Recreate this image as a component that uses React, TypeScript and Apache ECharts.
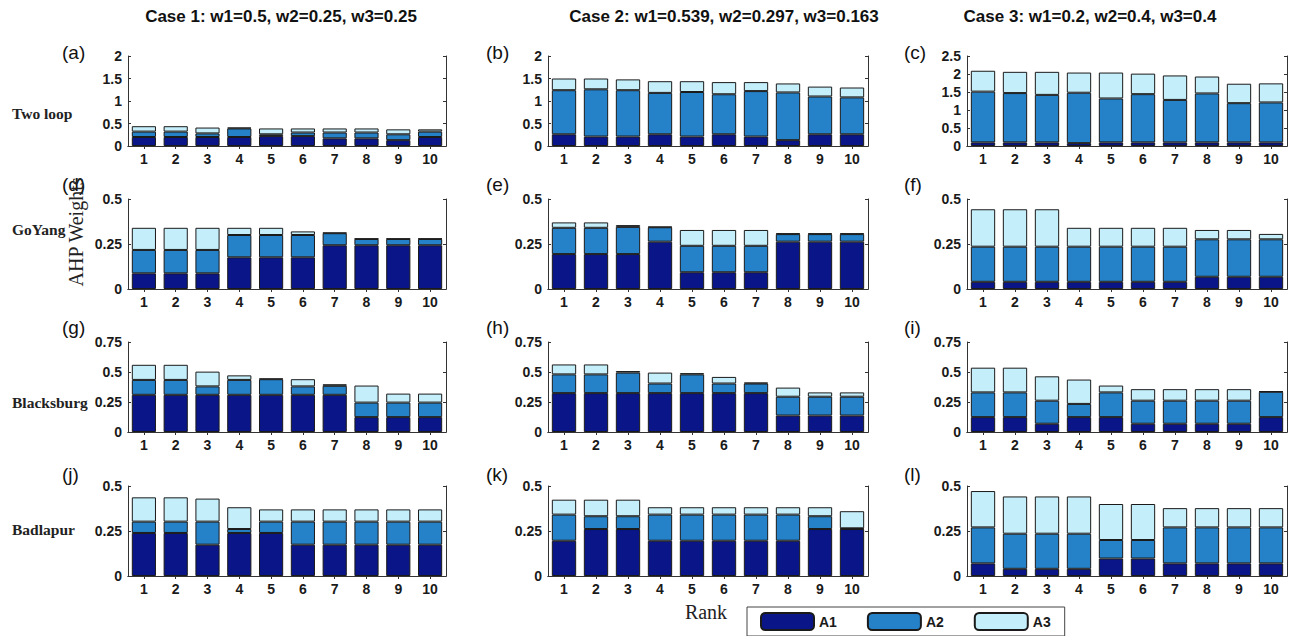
import React, { useEffect, useRef } from 'react';
import * as echarts from 'echarts';

const ranks = ['1', '2', '3', '4', '5', '6', '7', '8', '9', '10'];
const caseTitles = ['Case 1: w1=0.5, w2=0.25, w3=0.25', 'Case 2: w1=0.539, w2=0.297, w3=0.163', 'Case 3: w1=0.2, w2=0.4, w3=0.4'];
const networks = ['Two loop', 'GoYang', 'Blacksburg', 'Badlapur'];
const panelLetters = ['(a)', '(b)', '(c)', '(d)', '(e)', '(f)', '(g)', '(h)', '(i)', '(j)', '(k)', '(l)'];
const seriesNames = ['A1', 'A2', 'A3'];
const yMax = [2, 2, 2.5, 0.5, 0.5, 0.5, 0.75, 0.75, 0.75, 0.5, 0.5, 0.5];
const yStep = [0.5, 0.5, 0.5, 0.25, 0.25, 0.25, 0.25, 0.25, 0.25, 0.25, 0.25, 0.25];

// (a) Two loop, Case 1
const a_A1 = [0.2, 0.2, 0.2, 0.2, 0.22, 0.22, 0.17, 0.17, 0.13, 0.2];
const a_A2 = [0.12, 0.12, 0.08, 0.19, 0.04, 0.08, 0.13, 0.13, 0.13, 0.12];
const a_A3 = [0.12, 0.12, 0.13, 0.02, 0.13, 0.09, 0.09, 0.09, 0.11, 0.05];
// (b) Two loop, Case 2
const b_A1 = [0.26, 0.21, 0.21, 0.26, 0.21, 0.26, 0.21, 0.13, 0.26, 0.26];
const b_A2 = [0.98, 1.05, 1.03, 0.92, 0.99, 0.89, 1.01, 1.06, 0.84, 0.82];
const b_A3 = [0.26, 0.24, 0.24, 0.26, 0.24, 0.27, 0.2, 0.2, 0.22, 0.22];
// (c) Two loop, Case 3
const c_A1 = [0.1, 0.1, 0.1, 0.08, 0.1, 0.1, 0.1, 0.1, 0.1, 0.1];
const c_A2 = [1.41, 1.37, 1.32, 1.4, 1.22, 1.34, 1.18, 1.36, 1.09, 1.11];
const c_A3 = [0.58, 0.59, 0.64, 0.56, 0.72, 0.57, 0.68, 0.47, 0.54, 0.53];
// (d) GoYang, Case 1
const d_A1 = [0.087, 0.087, 0.087, 0.176, 0.176, 0.176, 0.243, 0.243, 0.243, 0.243];
const d_A2 = [0.13, 0.13, 0.13, 0.124, 0.124, 0.124, 0.067, 0.035, 0.035, 0.035];
const d_A3 = [0.123, 0.123, 0.123, 0.04, 0.04, 0.02, 0.003, 0.002, 0.002, 0.002];
// (e) GoYang, Case 2
const e_A1 = [0.194, 0.194, 0.194, 0.263, 0.093, 0.093, 0.093, 0.263, 0.263, 0.263];
const e_A2 = [0.146, 0.146, 0.151, 0.08, 0.147, 0.147, 0.147, 0.042, 0.042, 0.042];
const e_A3 = [0.03, 0.03, 0.01, 0.003, 0.088, 0.088, 0.088, 0.004, 0.004, 0.004];
// (f) GoYang, Case 3
const f_A1 = [0.04, 0.04, 0.04, 0.04, 0.04, 0.04, 0.04, 0.068, 0.068, 0.068];
const f_A2 = [0.195, 0.195, 0.195, 0.195, 0.195, 0.195, 0.195, 0.208, 0.208, 0.208];
const f_A3 = [0.208, 0.208, 0.208, 0.105, 0.105, 0.105, 0.105, 0.052, 0.052, 0.03];
// (g) Blacksburg, Case 1
const g_A1 = [0.31, 0.31, 0.31, 0.31, 0.31, 0.31, 0.31, 0.124, 0.124, 0.124];
const g_A2 = [0.124, 0.124, 0.07, 0.124, 0.13, 0.07, 0.075, 0.121, 0.121, 0.121];
const g_A3 = [0.126, 0.126, 0.123, 0.038, 0.005, 0.06, 0.013, 0.142, 0.075, 0.075];
// (h) Blacksburg, Case 2
const h_A1 = [0.324, 0.324, 0.324, 0.324, 0.324, 0.324, 0.324, 0.137, 0.137, 0.137];
const h_A2 = [0.156, 0.156, 0.171, 0.08, 0.156, 0.08, 0.08, 0.157, 0.157, 0.157];
const h_A3 = [0.083, 0.083, 0.013, 0.091, 0.01, 0.055, 0.008, 0.076, 0.036, 0.036];
// (i) Blacksburg, Case 3
const i_A1 = [0.124, 0.124, 0.069, 0.124, 0.124, 0.069, 0.069, 0.069, 0.069, 0.124];
const i_A2 = [0.206, 0.206, 0.192, 0.11, 0.206, 0.192, 0.192, 0.192, 0.192, 0.211];
const i_A3 = [0.206, 0.206, 0.203, 0.203, 0.057, 0.096, 0.096, 0.096, 0.096, 0.005];
// (j) Badlapur, Case 1
const j_A1 = [0.239, 0.239, 0.174, 0.239, 0.239, 0.174, 0.174, 0.174, 0.174, 0.174];
const j_A2 = [0.063, 0.063, 0.128, 0.022, 0.063, 0.128, 0.128, 0.128, 0.128, 0.128];
const j_A3 = [0.135, 0.135, 0.128, 0.121, 0.068, 0.068, 0.068, 0.068, 0.068, 0.068];
// (k) Badlapur, Case 2
const k_A1 = [0.196, 0.261, 0.261, 0.196, 0.196, 0.196, 0.196, 0.196, 0.261, 0.261];
const k_A2 = [0.145, 0.071, 0.071, 0.145, 0.145, 0.145, 0.145, 0.145, 0.071, 0.004];
const k_A3 = [0.083, 0.092, 0.092, 0.041, 0.041, 0.041, 0.041, 0.041, 0.05, 0.095];
// (l) Badlapur, Case 3
const l_A1 = [0.07, 0.04, 0.04, 0.04, 0.097, 0.097, 0.07, 0.07, 0.07, 0.07];
const l_A2 = [0.2, 0.195, 0.195, 0.195, 0.103, 0.103, 0.2, 0.2, 0.2, 0.2];
const l_A3 = [0.202, 0.207, 0.207, 0.207, 0.2, 0.2, 0.107, 0.107, 0.107, 0.107];

const panels = [
  [a_A1, a_A2, a_A3], [b_A1, b_A2, b_A3], [c_A1, c_A2, c_A3],
  [d_A1, d_A2, d_A3], [e_A1, e_A2, e_A3], [f_A1, f_A2, f_A3],
  [g_A1, g_A2, g_A3], [h_A1, h_A2, h_A3], [i_A1, i_A2, i_A3],
  [j_A1, j_A2, j_A3], [k_A1, k_A2, k_A3], [l_A1, l_A2, l_A3],
];

const colors = ['#0a1688', '#2582c8', '#c4eefa'];
const colLeft = [128, 548, 967];
const colWidth = [318, 320, 320];
const rowTop = [56, 199, 342, 486];
const rowHeight = 90;
const titleX = [281, 724, 1090];
const letterX = [62, 486, 904];
const letterY = [52, 184, 327, 474];
const netLabelY = [113, 229, 402, 529];

const tickFont = { fontFamily: 'Liberation Sans, Arial, sans-serif', fontWeight: 'bold' as const, fontSize: 14, color: '#1a1a1a' };
const lineStyle = { color: '#333', width: 1 };

export default function App() {
  const ref = useRef<HTMLDivElement>(null);
  useEffect(() => {
    if (!ref.current) return;
    const chart = echarts.init(ref.current, undefined, { renderer: 'svg' });
    const grids: any[] = [];
    const xAxes: any[] = [];
    const yAxes: any[] = [];
    const series: any[] = [];
    const extraX: any[] = [];
    const extraY: any[] = [];
    for (let p = 0; p < 12; p++) {
      const r = Math.floor(p / 3);
      const c = p % 3;
      grids.push({ left: colLeft[c], top: rowTop[r], width: colWidth[c], height: rowHeight, containLabel: false });
      xAxes.push({
        type: 'category', gridIndex: p, data: ranks, position: 'bottom',
        axisLine: { show: true, lineStyle },
        axisTick: { show: true, inside: true, alignWithLabel: true, length: 3, lineStyle },
        axisLabel: { ...tickFont, margin: 6, interval: 0 },
      });
      extraX.push({
        type: 'category', gridIndex: p, data: ranks, position: 'top',
        axisLine: { show: true, lineStyle },
        axisTick: { show: true, inside: true, alignWithLabel: true, length: 3, lineStyle },
        axisLabel: { show: false },
      });
      yAxes.push({
        type: 'value', gridIndex: p, min: 0, max: yMax[p], interval: yStep[p], position: 'left',
        axisLine: { show: true, lineStyle },
        axisTick: { show: true, inside: true, length: 3, lineStyle },
        axisLabel: { ...tickFont, margin: 6 },
        splitLine: { show: false },
      });
      extraY.push({
        type: 'value', gridIndex: p, min: 0, max: yMax[p], interval: yStep[p], position: 'right',
        axisLine: { show: true, lineStyle },
        axisTick: { show: true, inside: true, length: 3, lineStyle },
        axisLabel: { show: false },
        splitLine: { show: false },
      });
      for (let k = 0; k < 3; k++) {
        series.push({
          type: 'bar', name: seriesNames[k], xAxisIndex: p, yAxisIndex: p, stack: 'p' + p,
          data: panels[p][k], barWidth: '76%',
          itemStyle: { color: colors[k], borderColor: '#1a1a1a', borderWidth: 1 },
        });
      }
    }
    const graphics: any[] = [];
    caseTitles.forEach((t, i) => {
      graphics.push({ type: 'text', x: titleX[i], y: 16, style: { text: t, font: 'bold 17px "Liberation Sans", Arial, sans-serif', fill: '#111', align: 'center', verticalAlign: 'middle' } });
    });
    panelLetters.forEach((t, p) => {
      const r = Math.floor(p / 3);
      const c = p % 3;
      graphics.push({ type: 'text', x: letterX[c], y: letterY[r], style: { text: t, font: '19px "Liberation Sans", Arial, sans-serif', fill: '#111', align: 'left', verticalAlign: 'middle' } });
    });
    networks.forEach((t, r) => {
      graphics.push({ type: 'text', x: 12, y: netLabelY[r], style: { text: t, font: 'bold 15.5px "Liberation Serif", "Times New Roman", serif', fill: '#222', align: 'left', verticalAlign: 'middle' } });
    });
    graphics.push({ type: 'text', x: 76, y: 232, rotation: Math.PI / 2, style: { text: 'AHP Weights', font: '20px "Liberation Serif", "Times New Roman", serif', fill: '#222', align: 'center', verticalAlign: 'middle' } });
    graphics.push({ type: 'text', x: 706, y: 612, style: { text: 'Rank', font: '20px "Liberation Serif", "Times New Roman", serif', fill: '#222', align: 'center', verticalAlign: 'middle' } });

    chart.setOption({
      animation: false,
      grid: grids,
      xAxis: [...xAxes, ...extraX],
      yAxis: [...yAxes, ...extraY],
      series,
      legend: {
        data: seriesNames, left: 747, top: 607, orient: 'horizontal',
        icon: 'roundRect',
        itemWidth: 53, itemHeight: 17, itemGap: 30,
        padding: [5, 14, 5, 13],
        borderColor: '#444', borderWidth: 1, backgroundColor: '#fff',
        textStyle: { ...tickFont, fontSize: 14 },
        selectedMode: false,
      },
      graphic: graphics,
    });
    return () => chart.dispose();
  }, []);
  return <div ref={ref} style={{ position: 'fixed', left: 0, top: 0, width: 1295, height: 636, background: '#fff' }} />;
}
